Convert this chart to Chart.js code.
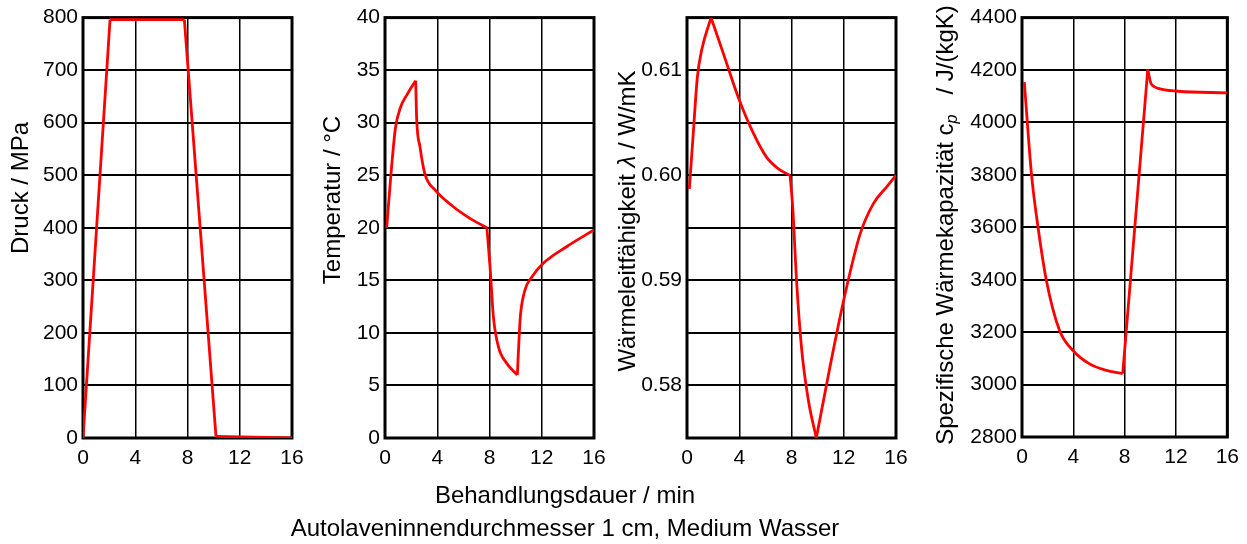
<!DOCTYPE html>
<html>
<head>
<meta charset="utf-8">
<script src="https://cdn.jsdelivr.net/npm/chart.js@4.4.1/dist/chart.umd.min.js"></script>
<style>
  html, body { margin: 0; padding: 0; background: #fff; }
  #wrap { position: relative; width: 1247px; height: 544px; overflow: hidden; background: #fff; }
  #wrap canvas { position: absolute; left: 0; top: 0; }
  .cap { position: absolute; left: 0; width: 1130px; text-align: center;
         font-family: "Liberation Sans", Arial, sans-serif; font-size: 24px;
         color: #000; white-space: nowrap; line-height: 1; }
</style>
</head>
<body>
<div id="wrap">
  <canvas id="c1" width="1247" height="544"></canvas>
  <canvas id="c2" width="1247" height="544"></canvas>
  <canvas id="c3" width="1247" height="544"></canvas>
  <canvas id="c4" width="1247" height="544"></canvas>
  <div class="cap" style="top:483px">Behandlungsdauer / min</div>
  <div class="cap" style="top:516px">Autolaveninnendurchmesser 1 cm, Medium Wasser</div>
</div>
<script>
// Shared time axis (min)
const timeTicks = [0, 4, 8, 12, 16];

// Pressure / MPa
const pressureTime   = [0, 2.07, 7.76, 10.18, 16];
const pressureValues = [0, 796, 796, 3, 0];
const pressureCorners = [1, 2, 3];
const pressureTicks  = [0, 100, 200, 300, 400, 500, 600, 700, 800];

// Temperature / °C
const tempTime   = [0.13, 0.45, 0.8, 1.2, 1.7, 2.35,
                    2.42, 2.68, 3.06, 3.83, 5.23, 6.5, 7.8,
                    8.04, 8.3, 8.68, 9.32, 10.13,
                    10.28, 10.38, 10.72, 11.23, 12.1, 13.9, 16];
const tempValues = [20, 25, 29.5, 31.5, 32.7, 34,
                    30.5, 27.7, 25.1, 23.6, 22.0, 20.9, 20,
                    16.3, 11.5, 8.7, 7.1, 6.0,
                    9.9, 11.8, 14.1, 15.3, 16.6, 18.2, 19.8];
const tempCorners = [5, 12, 17];
const tempTicks   = [0, 5, 10, 15, 20, 25, 30, 35, 40];

// Thermal conductivity / W/mK
const condTime   = [0.18, 0.48, 0.79, 1.12, 1.84,
                    2.78, 3.93, 5.08, 6.1, 7.12, 7.89,
                    8.09, 8.4, 8.78, 9.29, 9.9,
                    10.95, 12.1, 13.25, 14.27, 15.29, 16];
const condValues = [0.5987, 0.6040, 0.6093, 0.6119, 0.6150,
                    0.6116, 0.6074, 0.6040, 0.6017, 0.6005, 0.6000,
                    0.5970, 0.5897, 0.5834, 0.5786, 0.5750,
                    0.5818, 0.5887, 0.5944, 0.5973, 0.5989, 0.6000];
const condCorners = [4, 10, 15];
const condGrid    = [0.575, 0.58, 0.585, 0.59, 0.595, 0.60, 0.605, 0.61, 0.615];
const condLabels  = ['0.58', '0.59', '0.60', '0.61'];

// Specific heat capacity / J/(kgK)
const cpTime   = [0.18, 0.74, 1.25, 1.9, 2.92, 3.95, 5.23, 6.5, 7.85,
                  9.8, 10.03, 10.2, 10.6, 12.15, 16];
const cpValues = [4154, 3802, 3600, 3397, 3207, 3131, 3080, 3055, 3042,
                  4202, 4151, 4140, 4130, 4119, 4113];
const cpCorners = [8, 9];
const cpTicks   = [2800, 3000, 3200, 3400, 3600, 3800, 4000, 4200, 4400];

const FONT = '"Liberation Sans", Arial, sans-serif';
const W = 1247, H = 544;
const X_AXIS_H = 40, Y_AXIS_W = 60;
const TICK_SIZE = 21, TITLE_SIZE = 24;

// Break a curve into smooth pieces that meet at sharp corners
function splitAtCorners(xs, ys, corners) {
  const cuts = [0, ...corners, xs.length - 1];
  const parts = [];
  for (let i = 0; i < cuts.length - 1; i++) {
    const pts = [];
    for (let k = cuts[i]; k <= cuts[i + 1]; k++) pts.push({ x: xs[k], y: ys[k] });
    parts.push(pts);
  }
  return parts;
}

// Thick frame around the plotting area
const framePlugin = {
  id: 'frame',
  beforeDatasetsDraw(chart) {
    const a = chart.chartArea, ctx = chart.ctx;
    ctx.save();
    ctx.strokeStyle = '#000';
    ctx.lineWidth = 3;
    ctx.strokeRect(a.left, a.top, a.right - a.left, a.bottom - a.top);
    ctx.restore();
  }
};

// Rotated y-axis title composed of styled text runs
const sideTitlePlugin = {
  id: 'sideTitle',
  afterDraw(chart, args, opts) {
    if (!opts || !opts.runs) return;
    const ctx = chart.ctx;
    ctx.save();
    ctx.fillStyle = '#000';
    ctx.textBaseline = 'middle';
    ctx.textAlign = 'left';
    let total = 0;
    const widths = opts.runs.map(r => {
      ctx.font = `${r.style || 'normal'} ${r.size || opts.size}px ${FONT}`;
      const w = ctx.measureText(r.text).width;
      total += w;
      return w;
    });
    ctx.translate(opts.x, opts.y);
    ctx.rotate(-Math.PI / 2);
    let pos = -total / 2;
    opts.runs.forEach((r, i) => {
      ctx.font = `${r.style || 'normal'} ${r.size || opts.size}px ${FONT}`;
      ctx.fillText(r.text, pos, r.dy || 0);
      pos += widths[i];
    });
    ctx.restore();
  }
};

function makePanel(id, p) {
  const datasets = splitAtCorners(p.time, p.values, p.corners).map(pts => ({
    data: pts,
    borderColor: '#ff0000',
    borderWidth: 2.8,
    pointRadius: 0,
    fill: false,
    cubicInterpolationMode: 'monotone'
  }));
  return new Chart(document.getElementById(id), {
    type: 'line',
    data: { datasets },
    options: {
      responsive: false,
      animation: false,
      events: [],
      layout: {
        padding: {
          left: p.area.left - Y_AXIS_W,
          right: W - p.area.right,
          top: p.area.top,
          bottom: H - p.area.bottom - X_AXIS_H
        }
      },
      plugins: {
        legend: { display: false },
        tooltip: { enabled: false },
        sideTitle: p.title
      },
      scales: {
        x: {
          type: 'linear',
          min: 0, max: 16,
          afterBuildTicks: s => { s.ticks = timeTicks.map(v => ({ value: v })); },
          afterFit: s => { s.height = X_AXIS_H; },
          ticks: { color: '#000', font: { family: FONT, size: TICK_SIZE }, padding: 8,
                   maxRotation: 0, autoSkip: false, callback: v => String(v) },
          grid: { color: '#000', lineWidth: 1.5, drawTicks: false },
          border: { display: false }
        },
        y: {
          type: 'linear',
          min: p.yMin, max: p.yMax,
          afterBuildTicks: s => { s.ticks = p.yTicks.map(v => ({ value: v })); },
          afterFit: s => { s.width = Y_AXIS_W; },
          ticks: { color: '#000', font: { family: FONT, size: TICK_SIZE }, padding: 5,
                   autoSkip: false, callback: p.yLabel },
          grid: { color: '#000', lineWidth: 2, drawTicks: false },
          border: { display: false }
        }
      }
    },
    plugins: [framePlugin, sideTitlePlugin]
  });
}

makePanel('c1', {
  time: pressureTime, values: pressureValues, corners: pressureCorners,
  yMin: 0, yMax: 800, yTicks: pressureTicks, yLabel: v => String(v),
  area: { left: 83, right: 292, top: 17, bottom: 438 },
  title: { x: 21, y: 188, size: TITLE_SIZE, runs: [{ text: 'Druck / MPa' }] }
});

makePanel('c2', {
  time: tempTime, values: tempValues, corners: tempCorners,
  yMin: 0, yMax: 40, yTicks: tempTicks, yLabel: v => String(v),
  area: { left: 385, right: 594, top: 17, bottom: 438 },
  title: { x: 333, y: 200, size: TITLE_SIZE, runs: [{ text: 'Temperatur / °C' }] }
});

makePanel('c3', {
  time: condTime, values: condValues, corners: condCorners,
  yMin: 0.575, yMax: 0.615, yTicks: condGrid,
  yLabel: v => { const s = v.toFixed(2); return (Math.abs(v - parseFloat(s)) < 1e-6 && condLabels.includes(s)) ? s : ''; },
  area: { left: 687, right: 896, top: 17, bottom: 438 },
  title: { x: 628, y: 221, size: TITLE_SIZE, runs: [
    { text: 'Wärmeleitfähigkeit ' }, { text: 'λ', style: 'italic' }, { text: ' / W/mK' }
  ] }
});

makePanel('c4', {
  time: cpTime, values: cpValues, corners: cpCorners,
  yMin: 2800, yMax: 4400, yTicks: cpTicks, yLabel: v => String(v),
  area: { left: 1022, right: 1230, top: 16, bottom: 437 },
  title: { x: 946, y: 225, size: TITLE_SIZE, runs: [
    { text: 'Spezifische Wärmekapazität c' },
    { text: 'p', style: 'italic', size: 16, dy: 7 },
    { text: '   / J/(kgK)' }
  ] }
});
</script>
</body>
</html>
